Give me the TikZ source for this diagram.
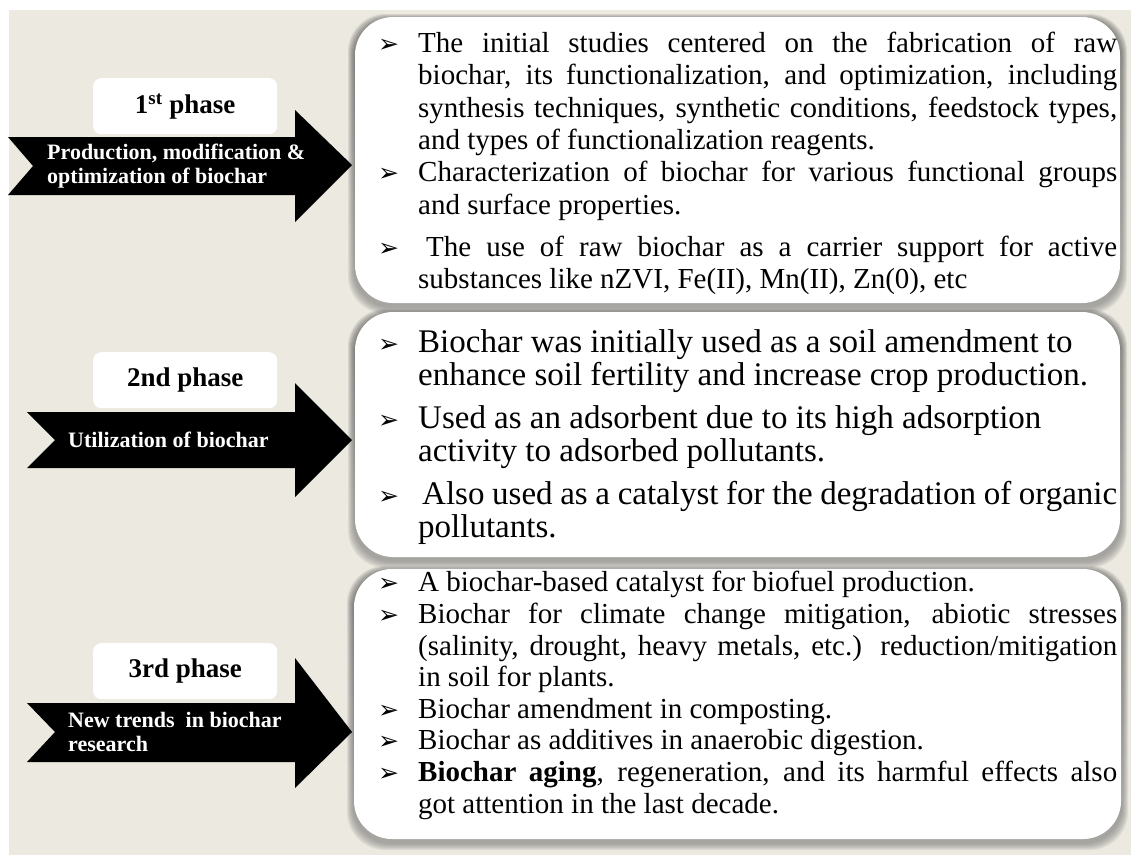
\documentclass[tikz,border=0pt]{standalone}
\usepackage{fontspec}
\setmainfont{Liberation Serif}
\newfontfamily\symfont{DejaVu Sans}
\definecolor{panel}{HTML}{ECE9E0}
\definecolor{shade}{HTML}{6E6E66}
\newcommand{\bul}{{\symfont\fontsize{25}{25}\selectfont ➢}}
\newcommand{\itm}{\par\hangindent=40pt\hangafter=1\noindent\makebox[40pt][l]{\bul}}
\newcommand{\softshadow}[4]{%
  \foreach \d in {1,...,7}{%
    \fill[shade,opacity=0.065,rounded corners=38pt] ({#1-\d},{#2-\d+4}) rectangle ({#3+\d},{#4+\d+4});
  }}
\tikzset{
  bigbox/.style={fill=white,rounded corners=38pt},
  blackarrow/.style={fill=black},
  labelbox/.style={fill=white,rounded corners=8pt,inner sep=0pt,
     minimum width=184pt,minimum height=56pt,anchor=north west,
     font=\bfseries\fontsize{27}{30}\selectfont},
  arrowtext/.style={text=white,font=\bfseries\fontsize{22}{24}\selectfont,
     align=left,inner sep=0pt,anchor=west},
  boxtext/.style={anchor=north west,inner sep=0pt,text width=739pt,align=justify},
}
\begin{document}
\begin{tikzpicture}[x=1pt,y=-1pt]
\useasboundingbox (0,0) rectangle (1131,855);
\fill[white] (0,0) rectangle (1131,855);
\fill[panel] (9,10) rectangle (1131,855);

% ---------- right boxes ----------
\softshadow{355}{17}{1120}{303}
\softshadow{355}{312}{1120}{557}
\softshadow{354}{569}{1121}{839}
\fill[bigbox] (355,17) rectangle (1120,303);
\fill[bigbox] (355,312) rectangle (1120,557);
\fill[bigbox] (354,569) rectangle (1121,839);

\node[boxtext] (t1) at (378,20) {\fontsize{29}{32.3}\selectfont
\itm The initial studies centered on the fabrication of raw\linebreak
biochar, its functionalization, and optimization, including\linebreak
synthesis techniques, synthetic conditions, feedstock types,\linebreak
and types of functionalization reagents.
\itm Characterization of biochar for various functional groups\linebreak
and surface properties.\par\vspace{10pt}
\itm\hspace{8pt}The use of raw biochar as a carrier support for active\linebreak
substances like nZVI, Fe(II), Mn(II), Zn(0), etc\par};

\node[boxtext] (t2) at (378,319) {\fontsize{33}{33}\selectfont
\itm Biochar was initially used as a soil amendment to\hfil\break
enhance soil fertility and increase crop production.\par\vspace{10pt}
\itm Used as an adsorbent due to its high adsorption\hfil\break
activity to adsorbed pollutants.\par\vspace{10pt}
\itm\hspace{4pt}Also used as a catalyst for the degradation of organic\hfil\break
pollutants.\par};

\node[boxtext] (t3) at (378,560) {\fontsize{29}{31.6}\selectfont
\itm A biochar-based catalyst for biofuel production.
\itm Biochar for climate change mitigation, abiotic stresses\linebreak
(salinity, drought, heavy metals, etc.) reduction/mitigation\linebreak
in soil for plants.
\itm Biochar amendment in composting.
\itm Biochar as additives in anaerobic digestion.
\itm \textbf{Biochar aging}, regeneration, and its harmful effects also\linebreak
got attention in the last decade.\par};

% ---------- left arrows ----------
\fill[blackarrow] (8,137) -- (295,137) -- (295,110) -- (352,165) -- (295,222) -- (295,195) -- (8,195) -- (33,166) -- cycle;
\fill[blackarrow] (27,412) -- (295,412) -- (295,383) -- (352,440) -- (295,497) -- (295,468) -- (27,468) -- (55,440) -- cycle;
\fill[blackarrow] (27,703) -- (295,703) -- (295,658) -- (352,732) -- (295,788) -- (295,762) -- (27,762) -- (55,732) -- cycle;

\node[labelbox] (p1) at (93,78) {1\textsuperscript{st} phase};
\node[labelbox] (p2) at (93,352) {2nd phase};
\node[labelbox] (p3) at (93,643) {3rd phase};

\node[arrowtext] (a1) at (47,166) {Production, modification \&\\optimization of biochar};
\node[arrowtext] (a2) at (68,440) {Utilization of biochar};
\node[arrowtext] (a3) at (68,732) {New trends\ \ in biochar\\research};
\end{tikzpicture}
\end{document}
